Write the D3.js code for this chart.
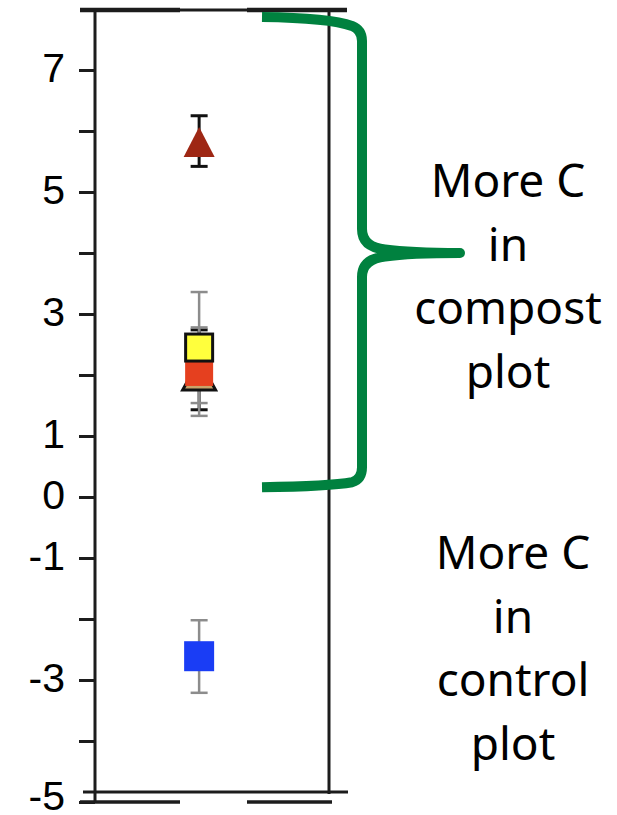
<!DOCTYPE html>
<html>
<head>
<meta charset="utf-8">
<script src="https://cdn.jsdelivr.net/npm/d3@7/dist/d3.min.js"></script>
<style>
  html, body { margin: 0; padding: 0; background: #fff; }
  svg { display: block; }
</style>
</head>
<body>
<svg id="chart" width="617" height="815"></svg>
<script>
// Axis ticks and labels
const yDomain = [-5, 8];
const yTicks = [-5, -4, -3, -2, -1, 0, 1, 2, 3, 4, 5, 6, 7];
const yLabels = [7, 5, 3, 1, 0, -1, -3, -5];

// Treatment markers (drawn back to front)
const groupPos = [0.445, 0.445, 0.445, 0.445, 0.445];
const shapes   = ["triangle", "square", "square", "triangle", "square"];
const means    = [2.0, 2.05, 2.45, 5.82, -2.61];
const lows     = [1.43, 1.33, 1.54, 5.42, -3.21];
const highs    = [2.74, 2.78, 3.36, 6.25, -2.02];
const fills    = ["#c9a36a", "#e5401f", "#ffff3d", "#9e2714", "#1a3df5"];
const outlines = ["#111111", "none", "#111111", "none", "none"];
const errTones = ["#111111", "#8c8c8c", "#8c8c8c", "#111111", "#8c8c8c"];

// Bracketed annotations
const bracketSpan = [0.16, 7.87];
const bracketTip = 4.0;
const noteTop = ["More C", "in", "compost", "plot"];
const noteBottom = ["More C", "in", "control", "plot"];

const svg = d3.select("#chart");
const axisX = 95, rightX = 329;

const y = d3.scaleLinear().domain(yDomain).range([802, 9]);
const x = d3.scaleLinear().domain([0, 1]).range([axisX, rightX]);

const ink = "#1c1c1c";

// frame: top edge, right edge, inner bottom edge
svg.append("line").attr("x1", 80).attr("x2", 347).attr("y1", y(8) + 1).attr("y2", y(8) + 1)
  .attr("stroke", ink).attr("stroke-width", 3);
[[80, 180], [247, 347]].forEach(([a, b]) => {
  svg.append("line").attr("x1", a).attr("x2", b).attr("y1", y(8) + 1).attr("y2", y(8) + 1)
    .attr("stroke", ink).attr("stroke-width", 4.5);
});
svg.append("line").attr("x1", rightX).attr("x2", rightX).attr("y1", y(8)).attr("y2", y(-5) - 8)
  .attr("stroke", ink).attr("stroke-width", 3);
svg.append("line").attr("x1", 83).attr("x2", 348).attr("y1", y(-5) - 10).attr("y2", y(-5) - 10)
  .attr("stroke", ink).attr("stroke-width", 3);
[[80, 180], [247, 332]].forEach(([a, b]) => {
  svg.append("line").attr("x1", a).attr("x2", b).attr("y1", y(-5)).attr("y2", y(-5))
    .attr("stroke", ink).attr("stroke-width", 3.5);
});

// left axis
const yAxis = d3.axisLeft(y)
  .tickValues(yTicks)
  .tickSize(16)
  .tickPadding(14)
  .tickFormat(d => yLabels.includes(d) ? String(d) : "");

const gAxis = svg.append("g").attr("transform", `translate(${axisX},0)`).call(yAxis);
gAxis.select(".domain").remove();
gAxis.selectAll(".tick line").attr("stroke", ink).attr("stroke-width", 3);
gAxis.selectAll(".tick text")
  .attr("fill", "#000")
  .attr("font-family", "'Liberation Sans', Arial, sans-serif")
  .attr("font-size", 41)
  .attr("dy", d => d === yDomain[0] ? "0.19em" : "0.27em");
svg.append("line").attr("x1", axisX).attr("x2", axisX).attr("y1", y(8)).attr("y2", y(-5))
  .attr("stroke", ink).attr("stroke-width", 3);

// error bars
const order = d3.range(means.length);
const capHalf = 8.5;
const errG = svg.append("g");
// black bars first, grey bars over them
const errOrder = order.slice().sort((a, b) => (errTones[a] === "#111111" ? 0 : 1) - (errTones[b] === "#111111" ? 0 : 1));
errOrder.forEach(i => {
  const cx = x(groupPos[i]);
  const w = errTones[i] === "#111111" ? 3 : 2.5;
  errG.append("line").attr("x1", cx).attr("x2", cx).attr("y1", y(highs[i])).attr("y2", y(lows[i]))
    .attr("stroke", errTones[i]).attr("stroke-width", w);
  [highs[i], lows[i]].forEach(v => {
    errG.append("line").attr("x1", cx - capHalf).attr("x2", cx + capHalf).attr("y1", y(v)).attr("y2", y(v))
      .attr("stroke", errTones[i]).attr("stroke-width", w);
  });
});

// markers
const markG = svg.append("g");
order.forEach(i => {
  const cx = x(groupPos[i]), cy = y(means[i]);
  if (shapes[i] === "square") {
    const s = outlines[i] === "none" ? (i === 4 ? 30 : 28) : 27;
    markG.append("rect")
      .attr("x", cx - s / 2).attr("y", cy - s / 2).attr("width", s).attr("height", s)
      .attr("fill", fills[i])
      .attr("stroke", outlines[i])
      .attr("stroke-width", outlines[i] === "none" ? 0 : 3);
  } else {
    const hw = outlines[i] === "none" ? 15.5 : 16.5, hh = 15;
    markG.append("path")
      .attr("d", `M${cx},${cy - hh}L${cx + hw},${cy + hh}L${cx - hw},${cy + hh}Z`)
      .attr("fill", fills[i])
      .attr("stroke", outlines[i])
      .attr("stroke-width", outlines[i] === "none" ? 0 : 3)
      .attr("stroke-linejoin", "miter");
  }
});

// green curly bracket over the positive range
const yTop = y(bracketSpan[1]), yBot = y(bracketSpan[0]), yMid = y(bracketTip);
const bx0 = 262, bx1 = 362, bx2 = 460;
const bp = d3.path();
bp.moveTo(bx0, yTop);
bp.quadraticCurveTo(330, yTop + 1, 352, yTop + 9);
bp.quadraticCurveTo(bx1, yTop + 13, bx1, yTop + 24);
bp.lineTo(bx1, yMid - 24);
bp.quadraticCurveTo(bx1, yMid - 6, 385, yMid - 3.5);
bp.quadraticCurveTo(410, yMid, bx2, yMid);
bp.moveTo(bx2, yMid);
bp.quadraticCurveTo(410, yMid, 385, yMid + 3.5);
bp.quadraticCurveTo(bx1, yMid + 6, bx1, yMid + 24);
bp.lineTo(bx1, yBot - 20);
bp.quadraticCurveTo(bx1, yBot - 8, 352, yBot - 5);
bp.quadraticCurveTo(330, yBot - 1, bx0, yBot);
svg.append("path")
  .attr("d", bp.toString())
  .attr("fill", "none")
  .attr("stroke", "#00813f")
  .attr("stroke-width", 10)
  .attr("stroke-linejoin", "round")
  .attr("stroke-linecap", "butt");
svg.append("circle").attr("cx", bx2).attr("cy", yMid).attr("r", 5).attr("fill", "#00813f");

// annotation text
const noteFont = "'Noto Sans', 'Open Sans', sans-serif";
function note(lines, cx, firstBaseline) {
  svg.append("g").selectAll("text").data(lines).join("text")
    .attr("x", cx)
    .attr("y", (d, k) => firstBaseline + k * 63.5)
    .attr("text-anchor", "middle")
    .attr("font-family", noteFont)
    .attr("font-size", 46)
    .attr("fill", "#000")
    .text(d => d);
}
note(noteTop, 508, 197);
note(noteBottom, 513, 569);
</script>
</body>
</html>
